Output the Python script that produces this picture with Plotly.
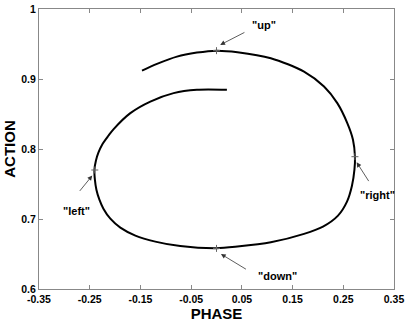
import plotly.graph_objects as go

# Curve (phase, action), outer start -> inner end
phase = [-0.1469, -0.1173, -0.0780, -0.0386, 0.0, 0.0413, 0.1071, 0.1726, 0.2120, 0.2382,
         0.2579, 0.2691, 0.2730, 0.2720, 0.2671, 0.2573, 0.2396, 0.2100, 0.1726, 0.1071,
         0.0413, 0.0, -0.0715, -0.1207, -0.1600, -0.1896, -0.2093, -0.2230, -0.2309, -0.2368,
         -0.2398, -0.2407, -0.2378, -0.2329, -0.2250, -0.2132, -0.2028, -0.1699, -0.1305,
         -0.0846, -0.0386, 0.0205]
action = [0.9120, 0.9216, 0.9320, 0.9377, 0.9405, 0.9383, 0.9297, 0.9106, 0.8892, 0.8655,
          0.8370, 0.8132, 0.7894, 0.7704, 0.7476, 0.7248, 0.7048, 0.6891, 0.6787, 0.6667,
          0.6606, 0.6582, 0.6613, 0.6677, 0.6763, 0.6877, 0.7005, 0.7148, 0.7276, 0.7419,
          0.7562, 0.7704, 0.7832, 0.7947, 0.8068, 0.8189, 0.8285, 0.8513, 0.8678,
          0.8798, 0.8845, 0.8845]

# Marked points
mark_labels = ['"up"', '"right"', '"down"', '"left"']
mark_x = [0.0, 0.273, 0.0, -0.240]
mark_y = [0.9405, 0.789, 0.658, 0.770]

# Arrow heads / tails and label positions
head_x = [0.0073, 0.2764, 0.0087, -0.245]
head_y = [0.9487, 0.781, 0.650, 0.762]
tail_x = [0.058, 0.302, 0.061, -0.272]
tail_y = [0.9676, 0.752, 0.627, 0.738]
label_x = [0.094, 0.318, 0.1195, -0.276]
label_y = [0.977, 0.735, 0.618, 0.712]

x_ticks = [-0.35, -0.25, -0.15, -0.05, 0.05, 0.15, 0.25, 0.35]
x_ticktext = ["-0.35", "-0.25", "-0.15", "-0.05", "0.05", "0.15", "0.25", "0.35"]
y_ticks = [0.6, 0.7, 0.8, 0.9, 1.0]
y_ticktext = ["0.6", "0.7", "0.8", "0.9", "1"]

FONT = "Liberation Sans, Arial, sans-serif"

fig = go.Figure()
fig.add_trace(go.Scatter(x=phase, y=action, mode="lines",
                         line=dict(color="black", width=2, shape="spline", smoothing=0.8),
                         hoverinfo="skip", showlegend=False))
fig.add_trace(go.Scatter(x=mark_x, y=mark_y, mode="markers",
                         marker=dict(symbol="cross-thin", size=5,
                                     line=dict(color="#666666", width=1)),
                         hoverinfo="skip", showlegend=False))

for i in range(len(mark_labels)):
    fig.add_annotation(x=head_x[i], y=head_y[i], ax=tail_x[i], ay=tail_y[i],
                       xref="x", yref="y", axref="x", ayref="y",
                       text="", showarrow=True, arrowhead=2, arrowsize=1.2,
                       arrowwidth=0.8, arrowcolor="#333333")
    fig.add_annotation(x=label_x[i], y=label_y[i], xref="x", yref="y",
                       text="<b>%s</b>" % mark_labels[i], showarrow=False,
                       font=dict(family=FONT, size=11, color="black"))

axis_common = dict(showgrid=False, zeroline=False, showline=True, linecolor="#888888",
                   linewidth=1, mirror="ticks", ticks="inside", ticklen=4,
                   tickcolor="#888888", tickwidth=1, automargin=False,
                   tickfont=dict(family=FONT, size=10.5, color="black"))

fig.update_xaxes(range=[-0.35, 0.35], tickvals=x_ticks,
                 ticktext=["<b>%s</b>" % t for t in x_ticktext],
                 title=dict(text="<b>PHASE</b>", font=dict(family=FONT, size=15, color="black"),
                            standoff=0),
                 **axis_common)
fig.update_yaxes(range=[0.6, 1.0], tickvals=y_ticks,
                 ticktext=["<b>%s</b>" % t for t in y_ticktext],
                 title=dict(text="<b>ACTION</b>", font=dict(family=FONT, size=15, color="black"),
                            standoff=2),
                 **axis_common)

fig.update_layout(width=409, height=322, margin=dict(l=38.5, r=15, t=9, b=32.5, autoexpand=False),
                  plot_bgcolor="white", paper_bgcolor="white", showlegend=False)

fig.write_html("out.html", config={"displayModeBar": False},
               post_script="document.body.style.margin='0';")
